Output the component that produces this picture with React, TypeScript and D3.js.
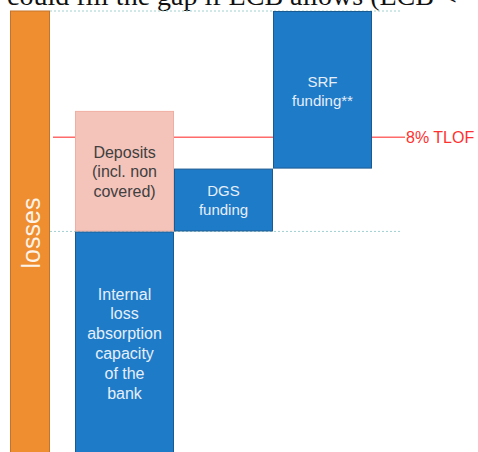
import * as d3 from "d3";
import { useEffect, useRef } from "react";

// funding blocks, values on a 0-100 scale (100 = total losses)
const columns = ["bank", "DGS", "SRF"];
const blockNames = ["internal", "deposits", "dgs", "srf"];
const blockColumns = ["bank", "bank", "DGS", "SRF"];
const blockStarts = [0, 53, 53, 66.4];
const blockEnds = [53, 78.7, 66.4, 100];
const blockLabels = [
  ["Internal", "loss", "absorption", "capacity", "of the", "bank"],
  ["Deposits", "(incl. non", "covered)"],
  ["DGS", "funding"],
  ["SRF", "funding**"],
];
const lossesTotal = 100;
const tlofLevel = 73.1;
const tlofLabel = "8% TLOF";
const guideLevels = [53, 100];
const caption = "could fill the gap if ECB allows (ECB <";

export default function App() {
  const svgRef = useRef<SVGSVGElement>(null);

  useEffect(() => {
    const w = 478;
    const h = 452;
    const svg = d3.select(svgRef.current).attr("width", w).attr("height", h);
    svg.selectAll("*").remove();

    //scales
    const y = d3.scaleLinear().domain([0, 100]).range([480, 11]);
    const x = d3.scaleBand().domain(columns).range([75, 372]).paddingInner(0);
    const lossX = [10, 50];

    // top caption (cut off slide text)
    svg
      .append("text")
      .attr("x", 7)
      .attr("y", 5)
      .attr("font-family", "Liberation Serif, Times New Roman, serif")
      .attr("font-size", 28)
      .attr("fill", "#111")
      .text(caption);

    // dotted guides
    svg
      .selectAll(".guide")
      .data(guideLevels)
      .join("line")
      .attr("x1", lossX[1])
      .attr("x2", 402)
      .attr("y1", (d) => y(d))
      .attr("y2", (d) => y(d))
      .attr("stroke", "#9fd0d0")
      .attr("stroke-width", 1)
      .attr("stroke-dasharray", "2,2");

    // 8% TLOF line
    svg
      .append("line")
      .attr("x1", 53)
      .attr("x2", 405)
      .attr("y1", y(tlofLevel))
      .attr("y2", y(tlofLevel))
      .attr("stroke", "#ff6b6b")
      .attr("stroke-width", 1.5);
    svg
      .append("text")
      .attr("x", 406)
      .attr("y", y(tlofLevel))
      .attr("dominant-baseline", "central")
      .attr("font-family", "Liberation Sans, Arial, sans-serif")
      .attr("font-size", 16)
      .attr("fill", "#ff3030")
      .text(tlofLabel);

    // losses bar
    svg
      .append("rect")
      .attr("x", lossX[0] + 0.5)
      .attr("y", y(lossesTotal))
      .attr("width", lossX[1] - lossX[0] - 1)
      .attr("height", y(0) - y(lossesTotal))
      .attr("fill", "#ee8e30")
      .attr("stroke", "#c4742a")
      .attr("stroke-width", 1);
    svg
      .append("text")
      .attr("transform", `translate(31, 233) rotate(-90)`)
      .attr("text-anchor", "middle")
      .attr("dominant-baseline", "central")
      .attr("font-family", "Liberation Sans, Arial, sans-serif")
      .attr("font-size", 25)
      .attr("fill", "#fdf3e8")
      .text("losses");

    // blocks
    const blocks = blockNames.map((name, i) => ({
      name,
      col: blockColumns[i],
      start: blockStarts[i],
      end: blockEnds[i],
      lines: blockLabels[i],
    }));

    const g = svg
      .selectAll(".block")
      .data(blocks)
      .join("g")
      .attr("class", "block");

    g.append("rect")
      .attr("x", (d) => x(d.col)! + 0.5)
      .attr("y", (d) => y(d.end) + 0.5)
      .attr("width", x.bandwidth() - 1)
      .attr("height", (d) => y(d.start) - y(d.end) - 1)
      .attr("fill", (d) => (d.name === "deposits" ? "#f4c3ba" : "#1e7bc8"))
      .attr("stroke", (d) => (d.name === "deposits" ? "#f0aea3" : "#1b5a90"))
      .attr("stroke-width", 1);

    const lineH = 19.8;
    g.each(function (d) {
      const cx = x(d.col)! + x.bandwidth() / 2;
      const top = y(d.end);
      let y0: number;
      if (d.name === "internal") y0 = 294;
      else if (d.name === "deposits") y0 = 152;
      else if (d.name === "dgs") y0 = 190;
      else y0 = 81;
      d3.select(this)
        .selectAll("text")
        .data(d.lines)
        .join("text")
        .attr("x", cx)
        .attr("y", (_, i) => y0 + i * lineH)
        .attr("text-anchor", "middle")
        .attr("dominant-baseline", "central")
        .attr("font-family", "Liberation Sans, Arial, sans-serif")
        .attr("font-size", d.name === "dgs" || d.name === "srf" ? 15 : 16)
        .attr("fill", d.name === "deposits" ? "#404040" : "#e6eff9")
        .text((t) => t);
      void top;
    });
  }, []);

  return (
    <div style={{ position: "absolute", left: 0, top: 0 }}>
      <svg ref={svgRef} style={{ display: "block", overflow: "hidden" }}></svg>
    </div>
  );
}
